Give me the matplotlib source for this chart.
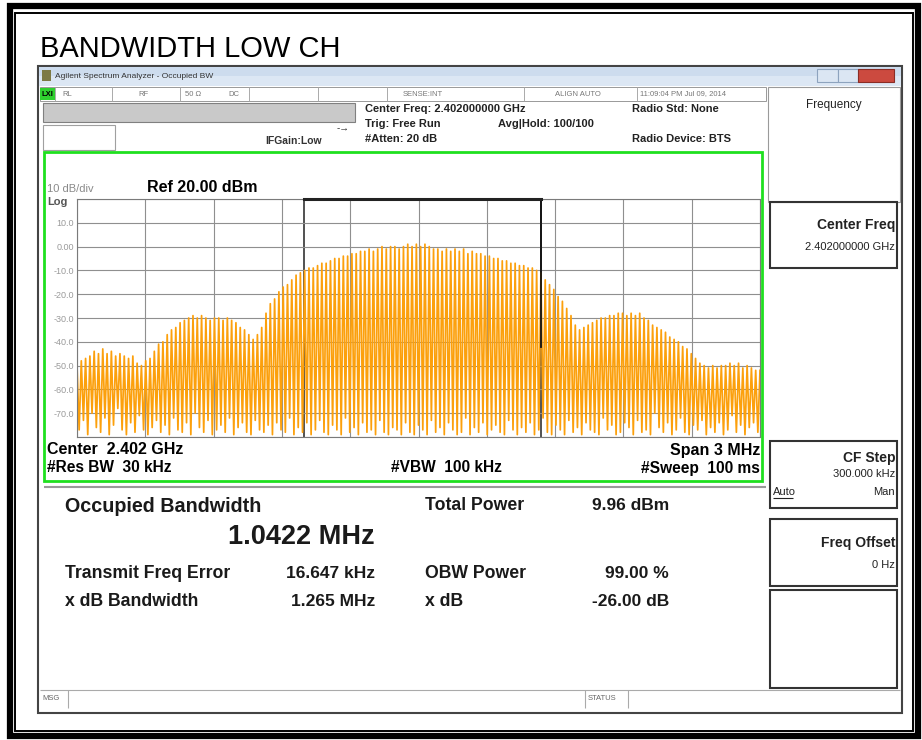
"""
occupied bandwidth screenshot, low channel
"""

import numpy as np
import matplotlib.pyplot as plt
from matplotlib.patches import Rectangle

plt.rcParams['font.family'] = ['Liberation Sans', 'DejaVu Sans']

# trace: top of each tooth and the notch after it (dBm)
peak_db = [
    -50, -48, -47, -46, -44, -45, -43, -45, -44, -46,
    -45, -46, -47, -46, -49, -50, -48, -47, -44, -41,
    -40, -37, -35, -34, -32, -31, -30, -29, -30, -29,
    -30, -31, -30, -30, -31, -30, -31, -32, -34, -35,
    -37, -39, -37, -34, -28, -24, -22, -19, -17, -16,
    -14, -12, -11, -10, -9, -9, -8, -7, -7, -6,
    -5, -5, -4, -4, -3, -3, -2, -2, -1, -2,
    -1, 0, -1, 0, 0, -1, 0, 1, 0, 1,
    0, 1, 0, -1, -1, -2, -1, -2, -1, -2,
    -1, -3, -2, -3, -3, -4, -4, -5, -5, -6,
    -6, -7, -7, -8, -8, -9, -9, -10, -11, -14,
    -16, -18, -21, -23, -26, -29, -33, -35, -34, -33,
    -32, -31, -30, -30, -29, -29, -28, -28, -29, -28,
    -29, -28, -30, -31, -33, -34, -35, -36, -38, -39,
    -40, -42, -43, -45, -47, -49, -50, -51, -50, -51,
    -50, -50, -49, -50, -49, -51, -50, -51, -52, -52,
]
dip_db = [
    -77, -73, -79, -70, -76, -78, -72, -79, -75, -68,
    -77, -79, -74, -78, -71, -77, -79, -76, -73, -78,
    -75, -79, -72, -77, -78, -74, -79, -70, -76, -78,
    -73, -79, -77, -75, -78, -72, -79, -76, -74, -78,
    -79, -73, -77, -78, -75, -79, -74, -77, -78, -72,
    -79, -76, -78, -74, -79, -77, -73, -78, -79, -75,
    -77, -79, -72, -78, -76, -79, -74, -78, -77, -79,
    -73, -78, -79, -76, -77, -79, -74, -78, -79, -75,
    -77, -79, -73, -78, -76, -79, -74, -77, -79, -78,
    -72, -79, -76, -78, -74, -79, -77, -75, -78, -79,
    -73, -77, -79, -76, -78, -74, -79, -77, -72, -78,
    -79, -75, -77, -79, -73, -78, -76, -79, -74, -77,
    -78, -79, -72, -77, -75, -79, -78, -74, -76, -79,
    -73, -78, -77, -79, -70, -76, -78, -74, -79, -77,
    -72, -78, -79, -75, -77, -73, -79, -76, -78, -74,
    -79, -77, -71, -78, -75, -79, -76, -74, -78,
]

ref_level = 20
db_per_div = 10
span_mhz = 3.0
obw_mhz = 1.0422
freq_err_khz = 16.647
ytick_labels = ['', '10.0', '0.00', '-10.0', '-20.0', '-30.0', '-40.0',
                '-50.0', '-60.0', '-70.0', '']

left_results = [('Transmit Freq Error', '16.647 kHz'), ('x dB Bandwidth', '1.265 MHz')]
right_results = [('Total Power', '9.96 dBm'), ('OBW Power', '99.00 %'), ('x dB', '-26.00 dB')]
status_cells = [('RL', 62), ('RF', 138), ('50 \u03a9', 185), ('DC', 228),
                ('SENSE:INT', 403), ('ALIGN AUTO', 555), ('11:09:04 PM Jul 09, 2014', 640)]

fig = plt.figure(figsize=(9.22, 7.40), dpi=100)
bg = fig.add_axes([0, 0, 1, 1])
bg.set_xlim(0, 922)
bg.set_ylim(740, 0)
bg.axis('off')


def box(x0, y0, x1, y1, **kw):
    kw.setdefault('fill', False)
    bg.add_patch(Rectangle((x0, y0), x1 - x0, y1 - y0, **kw))


def txt(x, y, s, size=8, weight='normal', color='black', ha='left', **kw):
    bg.text(x, y, s, fontsize=size, fontweight=weight, color=color,
            ha=ha, va='center', **kw)


def line(xs, ys, color='#888888', lw=1.0):
    bg.plot(xs, ys, color=color, lw=lw, solid_capstyle='butt')


# page border (thick + thin)
box(10, 6, 918, 736, ec='black', lw=4.5)
box(15, 13, 913, 731, ec='black', lw=1.4)

txt(40, 49, 'BANDWIDTH LOW CH', size=21)

# analyzer window
box(38, 66, 902, 713, fill=True, fc='white', ec='#444444', lw=1.5)
box(39, 67, 901, 76, fill=True, fc='#cddcee', ec='none')
box(39, 76, 901, 86, fill=True, fc='#dce7f4', ec='none')
box(42, 70, 51, 81, fill=True, fc='#7d7a45', ec='none')
txt(55, 76, 'Agilent Spectrum Analyzer - Occupied BW', size=6, color='#333333')
box(817, 69, 838, 82, fill=True, fc='#dbe6f3', ec='#8da3be', lw=0.8)
box(838, 69, 858, 82, fill=True, fc='#dbe6f3', ec='#8da3be', lw=0.8)
box(858, 69, 894, 82, fill=True, fc='#cc4a3f', ec='#8a2d26', lw=0.8)

# status row
box(40, 87, 766, 101, ec='#999999', lw=0.7)
box(40, 88, 55, 100, fill=True, fc='#2fd02f', ec='none')
txt(41, 94, 'LXI', size=5.5, weight='bold')
for sx in [55, 112, 180, 249, 318, 387, 524, 637]:
    line([sx, sx], [87, 101], color='#aaaaaa', lw=0.7)
for label, sx in status_cells:
    txt(sx, 94, label, size=5.5, color='#777777')

# setup block
box(43, 103, 355, 122, fill=True, fc='#c9c9c9', ec='#808080', lw=0.8)
box(43, 125, 115, 150, fill=True, fc='white', ec='#a0a0a0', lw=0.8)
txt(343, 128, '-\u2192', size=7, ha='center', color='#333333')
txt(265, 141, 'IFGain:Low', size=7.5, weight='bold', color='#333333')
txt(365, 109, 'Center Freq: 2.402000000 GHz', size=8, weight='bold', color='#222222')
txt(365, 124, 'Trig: Free Run', size=8, weight='bold', color='#222222')
txt(365, 139, '#Atten: 20 dB', size=8, weight='bold', color='#222222')
txt(498, 124, 'Avg|Hold: 100/100', size=8, weight='bold', color='#222222')
txt(632, 109, 'Radio Std: None', size=8, weight='bold', color='#222222')
txt(632, 139, 'Radio Device: BTS', size=8, weight='bold', color='#222222')

# green trace window
box(44, 152, 762, 481, ec='#1fe01f', lw=2)
txt(47, 189, '10 dB/div', size=8, color='#8a8a8a')
txt(147, 187, 'Ref 20.00 dBm', size=11.5, weight='bold')
txt(47, 202, 'Log', size=8, weight='bold', color='#555555')
txt(47, 450, 'Center  2.402 GHz', size=11.5, weight='bold')
txt(47, 468, '#Res BW  30 kHz', size=11.2, weight='bold')
txt(391, 468, '#VBW  100 kHz', size=11.2, weight='bold')
txt(760, 450, 'Span 3 MHz', size=11.5, weight='bold', ha='right')
txt(760, 468, '#Sweep  100 ms', size=11.2, weight='bold', ha='right')
line([44, 766], [487, 487], color='#9a9a9a', lw=1.5)

# spectrum
ax = fig.add_axes([77 / 922, 1 - 437 / 740, 683 / 922, 238 / 740])
n = len(peak_db)
x_peak = np.linspace(-span_mhz / 2, span_mhz / 2, n)
x_trace = np.empty(2 * n - 1)
y_trace = np.empty(2 * n - 1)
x_trace[0::2] = x_peak
x_trace[1::2] = (x_peak[:-1] + x_peak[1:]) / 2
y_trace[0::2] = peak_db
y_trace[1::2] = dip_db

bottom = ref_level - 10 * db_per_div
ax.set_xlim(-span_mhz / 2, span_mhz / 2)
ax.set_ylim(bottom, ref_level)
ax.set_xticks(np.linspace(-span_mhz / 2, span_mhz / 2, 11))
ax.set_yticks(np.arange(ref_level, bottom - 1, -db_per_div))
ax.set_xticklabels([])
ax.set_yticklabels(ytick_labels)
ax.tick_params(length=0, pad=2, labelsize=6.5, labelcolor='#9a9a9a')
ax.grid(True, color='#8f8f8f', lw=0.8)
for sp in ax.spines.values():
    sp.set_color('#7a7a7a')

f_lo = freq_err_khz / 1000 - obw_mhz / 2
f_hi = freq_err_khz / 1000 + obw_mhz / 2
ax.axvline(f_lo, color='#333333', lw=1.2, zorder=1)
ax.axvline(f_hi, color='#333333', lw=1.2, zorder=1)
ax.plot([f_lo, f_hi], [ref_level, ref_level], color='#222222', lw=2.2, clip_on=False, zorder=4)
ax.plot(x_trace, y_trace, color='#fca00c', lw=1.25, zorder=2)
ax.plot([f_hi, f_hi], [ref_level, -42], color='#111111', lw=1.3, zorder=3)

# results
txt(65, 507, 'Occupied Bandwidth', size=14.2, weight='bold', color='#1a1a1a')
txt(375, 537, '%.4f MHz' % obw_mhz, size=19.5, weight='bold', color='#1a1a1a', ha='right')
for i, (name, val) in enumerate(left_results):
    y = 573 + 29 * i
    txt(65, y, name, size=12.7, weight='bold', color='#1a1a1a')
    txt(375, y, val, size=12.5, weight='bold', color='#1a1a1a', ha='right')
for (name, val), y in zip(right_results, [506, 573, 601]):
    txt(425, y, name, size=12.7, weight='bold', color='#1a1a1a')
    txt(669, y, val, size=12.5, weight='bold', color='#1a1a1a', ha='right')

# softkey panel
box(768, 87, 900, 202, ec='#9a9a9a', lw=0.8)
txt(834, 105, 'Frequency', size=8.5, color='#222222', ha='center')
for y0, y1 in [(202, 268), (441, 508), (519, 586), (590, 688)]:
    box(770, y0, 897, y1, ec='#333333', lw=1.5)
txt(895, 225, 'Center Freq', size=10, weight='bold', ha='right', color='#222222')
txt(895, 247, '2.402000000 GHz', size=8, ha='right', color='#222222')
txt(895, 458, 'CF Step', size=10, weight='bold', ha='right', color='#222222')
txt(895, 474, '300.000 kHz', size=8, ha='right', color='#222222')
txt(773, 492, 'Auto', size=8, color='#222222')
line([773, 793], [498, 498], color='#222222', lw=0.8)
txt(895, 492, 'Man', size=8, ha='right', color='#222222')
txt(895, 543, 'Freq Offset', size=10, weight='bold', ha='right', color='#222222')
txt(895, 565, '0 Hz', size=8, ha='right', color='#222222')

# message bar
line([40, 900], [690, 690], color='#aaaaaa', lw=0.8)
for sx in [68, 585, 628]:
    line([sx, sx], [690, 708], color='#aaaaaa', lw=0.8)
txt(42, 699, 'MSG', size=5.5, color='#666666')
txt(588, 699, 'STATUS', size=5.5, color='#666666')

fig.savefig('out.png', dpi=100)
